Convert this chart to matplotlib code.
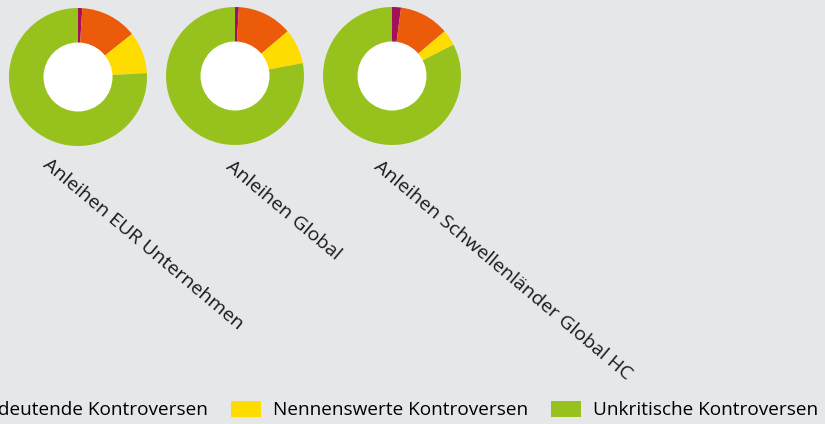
import matplotlib
matplotlib.use("Agg")
from matplotlib import pyplot as plt
from matplotlib.patches import Patch

funds = ["Anleihen EUR Unternehmen", "Anleihen Global", "Anleihen Schwellenländer Global HC"]
categories = ["Schwerwiegende Kontroversen", "Bedeutende Kontroversen",
              "Nennenswerte Kontroversen", "Unkritische Kontroversen"]
colors = ["#a3115c", "#ec5b0a", "#ffdc00", "#97c21e"]

# shares in percent, one list per category (purple, orange, yellow, green)
severe = [1.0, 0.9, 2.1]
major = [13.3, 12.9, 11.7]
notable = [9.8, 8.2, 3.7]
uncritical = [75.9, 78.0, 82.5]

bg = "#e6e7e9"
W, H = 825, 424

fig = plt.figure(figsize=(W / 100, H / 100), dpi=100, facecolor=bg)
plt.rcParams['font.family'] = ['Open Sans', 'DejaVu Sans']

centers = [(78, 77), (235, 76), (392, 76)]
radius = 69
label_pos = [(51, 155), (234, 157), (382, 157)]

for i, name in enumerate(funds):
    cx, cy = centers[i]
    ax = fig.add_axes([(cx - radius) / W, (H - cy - radius) / H, 2 * radius / W, 2 * radius / H])
    vals = [severe[i], major[i], notable[i], uncritical[i]]
    ax.pie(vals, colors=colors, startangle=90, counterclock=False,
           wedgeprops=dict(width=0.51, linewidth=0))
    ax.add_patch(plt.Circle((0, 0), 0.49, color="white", zorder=5))
    ax.set_aspect("equal")
    ax.set_xlim(-1, 1)
    ax.set_ylim(-1, 1)
    ax.axis("off")

    lx, ly = label_pos[i]
    fig.text(lx / W, 1 - ly / H, name, rotation=-40, rotation_mode="anchor",
             ha="left", va="top", fontsize=14, color="#1a1a1a")

handles = [Patch(facecolor=c, edgecolor="none") for c in colors]
fig.legend(handles, categories, loc="center right", bbox_to_anchor=(818 / W, 1 - 410 / H),
           ncol=4, frameon=False, fontsize=13.7, handlelength=1.58, handleheight=0.9,
           handletextpad=0.63, columnspacing=1.2, borderaxespad=0, borderpad=0)

fig.savefig("out.png", dpi=100, facecolor=bg)
